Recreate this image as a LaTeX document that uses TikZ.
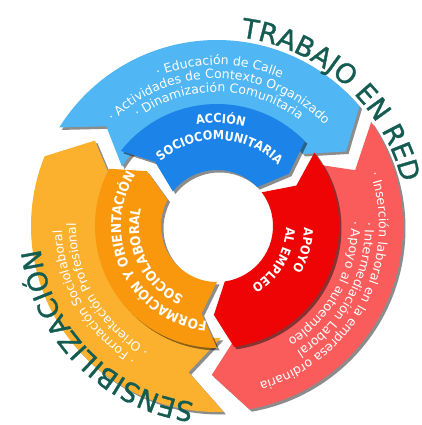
\documentclass[tikz,border=0pt]{standalone}
\usepackage{fontspec}
\setmainfont{DejaVu Sans}
\newfontfamily\bandfont[FakeStretch=0.9]{DejaVu Sans}
\newfontfamily\ringfam[FakeBold=1.2]{DejaVu Sans}
\usetikzlibrary{decorations.text}
\usetikzlibrary{shadows}
\usepackage{xcolor}
\definecolor{lblue}{RGB}{80,182,244}
\definecolor{dblue}{RGB}{28,132,232}
\definecolor{lred}{RGB}{250,92,92}
\definecolor{dred}{RGB}{238,4,4}
\definecolor{lorange}{RGB}{251,176,46}
\definecolor{dorange}{RGB}{249,152,12}
\definecolor{netgreen}{RGB}{20,92,82}
\newcommand{\listfont}{\fontsize{12.5}{14}\selectfont}
\newcommand{\bandsmall}{\bandfont\bfseries\fontsize{12.5}{14}\selectfont}
\newcommand{\bandbig}{\bandfont\bfseries\fontsize{13.5}{15}\selectfont}
\newcommand{\ringfont}{\ringfam\fontsize{27}{30}\selectfont}

\begin{document}
\begin{tikzpicture}[x=1pt, y=1pt,
    shadowed/.style = {drop shadow={shadow xshift=2.5pt, shadow yshift=-2.5pt,
                       opacity=.45, fill=black}},
    arctext/.style = {decorate, decoration={text along path, text={#1},
                      text align=center, text color=white}},
    lefttext/.style = {decorate, decoration={text along path, text={#1},
                      text align=left, text color=white}},
    ringtext/.style = {decorate, decoration={text along path, text={#1},
                       text align=center, text color=netgreen}}
                    ]
        \useasboundingbox (-217,-199) rectangle (204,226);
        \def\rin{112}   % outer ring
        \def\rout{186}
        \def\rmid{149}
        \def\hole{56}   % inner ring
        \def\band{122}
        \def\bmid{89}
        % outer ring, clockwise arrows
        \foreach \s/\e/\d/\c in {148/40/10/lblue, 34/-80/12/lred, -88/-202/13/lorange}
            \fill[\c, shadowed] (\s:\rout) arc[start angle=\s, end angle=\e, radius=\rout]
                -- ({\e-\d}:\rmid) -- (\e:\rin) arc[start angle=\e, end angle=\s, radius=\rin]
                -- ({\s-\d}:\rmid) -- cycle;
        % inner ring
        \foreach \s/\e/\d/\c in {142/44/8/dblue, 37/-82/10/dred, -90/-208/10/dorange}
            \fill[\c, shadowed] (\s:\band) arc[start angle=\s, end angle=\e, radius=\band]
                -- ({\e-\d}:\bmid) -- (\e:\hole) arc[start angle=\e, end angle=\s, radius=\hole]
                -- ({\s-\d}:\bmid) -- cycle;
        % lists
        \path[arctext={|\listfont|· Educación de Calle}]
            (169:161) arc[start angle=169, end angle=9, radius=161];
        \path[arctext={|\listfont|· Actividades de Contexto Organizado}]
            (169:147.5) arc[start angle=169, end angle=9, radius=147.5];
        \path[arctext={|\listfont|· Dinamización Comunitaria}]
            (169:134) arc[start angle=169, end angle=9, radius=134];
        \path[arctext={|\listfont|· Inserción laboral en la empresa ordinaria}]
            (52:162) arc[start angle=52, end angle=-108, radius=162];
        \path[arctext={|\listfont|· Intermediación Laboral}]
            (52:148) arc[start angle=52, end angle=-108, radius=148];
        \path[arctext={|\listfont|· Apoyo al autoempleo}]
            (52:134) arc[start angle=52, end angle=-108, radius=134];
        \path[arctext={|\listfont|· Formación Sociolaboral}]
            (280:155) arc[start angle=280, end angle=140, radius=155];
        \path[arctext={|\listfont|· Orientación Profesional}]
            (280:141) arc[start angle=280, end angle=140, radius=141];
        % band titles
        \path[arctext={|\bandsmall|ACCIÓN}]
            (168:103) arc[start angle=168, end angle=8, radius=103];
        \path[arctext={|\bandsmall|SOCIOCOMUNITARIA}]
            (168:86) arc[start angle=168, end angle=8, radius=86];
        \path[lefttext={|\bandsmall|APOYO}]
            (-1:87) arc[start angle=-1, end angle=-90, radius=87];
        \path[lefttext={|\bandsmall|AL EMPLEO}]
            (-1:69) arc[start angle=-1, end angle=-90, radius=69];
        \path[arctext={|\bandbig|FORMACIÓN Y ORIENTACIÓN}]
            (276:96) arc[start angle=276, end angle=136, radius=96];
        \path[arctext={|\bandbig|SOCIOLABORAL}]
            (276:78) arc[start angle=276, end angle=136, radius=78];
        % outside
        \path[ringtext={|\ringfont|TRABAJO EN RED}]
            (108:190) arc[start angle=108, end angle=-12, radius=190];
        \path[ringtext={|\ringfont|SENSIBILIZACIÓN}]
            (285:178) arc[start angle=285, end angle=165, radius=178];
    \end{tikzpicture}
\end{document}
